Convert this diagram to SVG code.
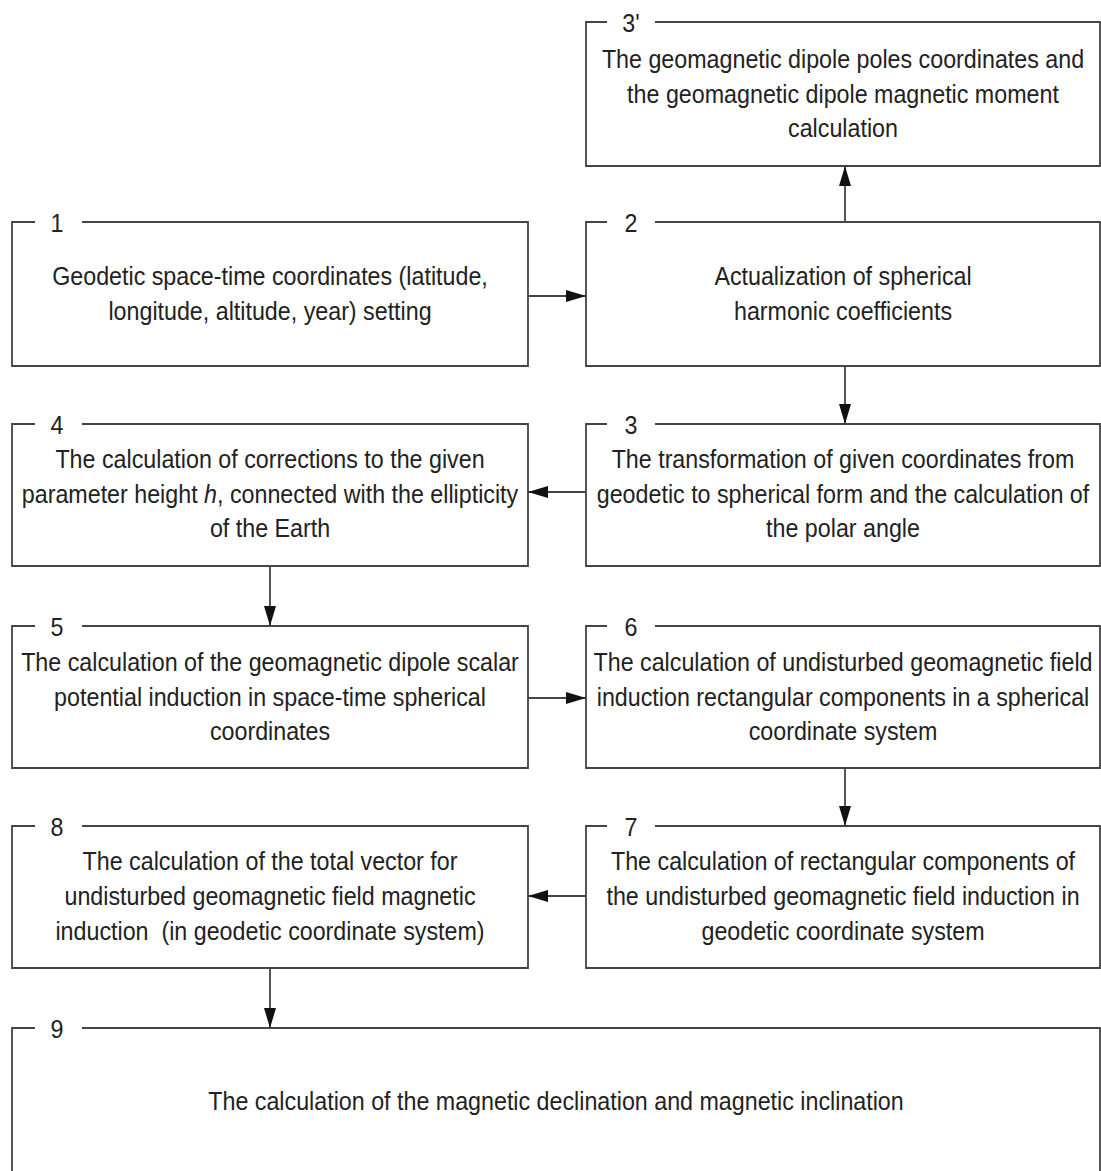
<svg xmlns="http://www.w3.org/2000/svg" width="1101" height="1171" viewBox="0 0 1101 1171">
<style>
.box{fill:none;stroke:#444;stroke-width:1.8}
.t{font-family:"Liberation Sans",Arial,sans-serif;font-size:26px;fill:#222;text-anchor:middle}
.c{stroke:#444;stroke-width:1.8;fill:none;marker-end:url(#ah)}
</style>
<defs>
<marker id="ah" viewBox="0 0 20 12" refX="20" refY="6" markerWidth="20" markerHeight="12" markerUnits="userSpaceOnUse" orient="auto">
<path d="M0,0 L20,6 L0,12 Z" fill="#111"/>
</marker>
</defs>
<rect width="1101" height="1171" fill="#fff"/>
<g id="node3p">
<path class="box" d="M655,22 H1100 V166 H586 V22 H607"/>
<g transform="translate(631 0) scale(0.895 1)"><text class="t" x="0" y="32">3'</text></g>
<g transform="translate(843 0) scale(0.895 1)">
<text class="t" x="0" y="68">The geomagnetic dipole poles coordinates and</text>
<text class="t" x="0" y="103">the geomagnetic dipole magnetic moment</text>
<text class="t" x="0" y="137">calculation</text>
</g>
</g>
<g id="node1">
<path class="box" d="M82,222 H528 V366 H12 V222 H35"/>
<g transform="translate(57 0) scale(0.895 1)"><text class="t" x="0" y="232">1</text></g>
<g transform="translate(270 0) scale(0.895 1)">
<text class="t" x="0" y="285">Geodetic space-time coordinates (latitude,</text>
<text class="t" x="0" y="320">longitude, altitude, year) setting</text>
</g>
</g>
<g id="node2">
<path class="box" d="M655,222 H1100 V366 H586 V222 H607"/>
<g transform="translate(631 0) scale(0.895 1)"><text class="t" x="0" y="232">2</text></g>
<g transform="translate(843 0) scale(0.895 1)">
<text class="t" x="0" y="285">Actualization of spherical</text>
<text class="t" x="0" y="320">harmonic coefficients</text>
</g>
</g>
<g id="node4">
<path class="box" d="M82,424 H528 V566 H12 V424 H35"/>
<g transform="translate(57 0) scale(0.895 1)"><text class="t" x="0" y="434">4</text></g>
<g transform="translate(270 0) scale(0.895 1)">
<text class="t" x="0" y="468">The calculation of corrections to the given</text>
<text class="t" x="0" y="503">parameter height <tspan font-style="italic">h</tspan>, connected with the ellipticity</text>
<text class="t" x="0" y="537">of the Earth</text>
</g>
</g>
<g id="node3">
<path class="box" d="M655,424 H1100 V566 H586 V424 H607"/>
<g transform="translate(631 0) scale(0.895 1)"><text class="t" x="0" y="434">3</text></g>
<g transform="translate(843 0) scale(0.895 1)">
<text class="t" x="0" y="468">The transformation of given coordinates from</text>
<text class="t" x="0" y="503">geodetic to spherical form and the calculation of</text>
<text class="t" x="0" y="537">the polar angle</text>
</g>
</g>
<g id="node5">
<path class="box" d="M82,626 H528 V768 H12 V626 H35"/>
<g transform="translate(57 0) scale(0.895 1)"><text class="t" x="0" y="636">5</text></g>
<g transform="translate(270 0) scale(0.895 1)">
<text class="t" x="0" y="671">The calculation of the geomagnetic dipole scalar</text>
<text class="t" x="0" y="706">potential induction in space-time spherical</text>
<text class="t" x="0" y="740">coordinates</text>
</g>
</g>
<g id="node6">
<path class="box" d="M655,626 H1100 V768 H586 V626 H607"/>
<g transform="translate(631 0) scale(0.895 1)"><text class="t" x="0" y="636">6</text></g>
<g transform="translate(843 0) scale(0.895 1)">
<text class="t" x="0" y="671">The calculation of undisturbed geomagnetic field</text>
<text class="t" x="0" y="706">induction rectangular components in a spherical</text>
<text class="t" x="0" y="740">coordinate system</text>
</g>
</g>
<g id="node8">
<path class="box" d="M82,826 H528 V968 H12 V826 H35"/>
<g transform="translate(57 0) scale(0.895 1)"><text class="t" x="0" y="836">8</text></g>
<g transform="translate(270 0) scale(0.895 1)">
<text class="t" x="0" y="870">The calculation of the total vector for</text>
<text class="t" x="0" y="905">undisturbed geomagnetic field magnetic</text>
<text class="t" x="0" y="940" xml:space="preserve">induction  (in geodetic coordinate system)</text>
</g>
</g>
<g id="node7">
<path class="box" d="M655,826 H1100 V968 H586 V826 H607"/>
<g transform="translate(631 0) scale(0.895 1)"><text class="t" x="0" y="836">7</text></g>
<g transform="translate(843 0) scale(0.895 1)">
<text class="t" x="0" y="870">The calculation of rectangular components of</text>
<text class="t" x="0" y="905">the undisturbed geomagnetic field induction in</text>
<text class="t" x="0" y="940">geodetic coordinate system</text>
</g>
</g>
<g id="node9">
<path class="box" d="M82,1028 H1100 V1200 M12,1200 V1028 H35"/>
<g transform="translate(57 0) scale(0.895 1)"><text class="t" x="0" y="1038">9</text></g>
<g transform="translate(556 0) scale(0.895 1)">
<text class="t" x="0" y="1110">The calculation of the magnetic declination and magnetic inclination</text>
</g>
</g>
<g id="connectors">
<line class="c" x1="528" y1="296" x2="586" y2="296"/>
<line class="c" x1="845" y1="222" x2="845" y2="166"/>
<line class="c" x1="845" y1="366" x2="845" y2="424"/>
<line class="c" x1="586" y1="492" x2="528" y2="492"/>
<line class="c" x1="270" y1="566" x2="270" y2="626"/>
<line class="c" x1="528" y1="698" x2="586" y2="698"/>
<line class="c" x1="845" y1="768" x2="845" y2="826"/>
<line class="c" x1="586" y1="896" x2="528" y2="896"/>
<line class="c" x1="270" y1="968" x2="270" y2="1028"/>
</g>
</svg>
